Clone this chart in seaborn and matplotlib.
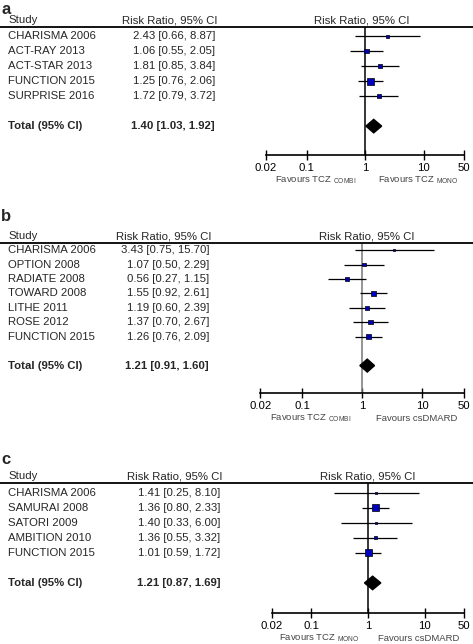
import matplotlib
matplotlib.use("Agg")
import matplotlib.pyplot as plt
import matplotlib.transforms as mtransforms
from matplotlib.ticker import NullLocator
import seaborn as sns
import pandas as pd

# panel a : TCZ combi vs TCZ mono
studies_a = ['CHARISMA 2006', 'ACT-RAY 2013', 'ACT-STAR 2013', 'FUNCTION 2015', 'SURPRISE 2016']
rr_a = [2.43, 1.06, 1.81, 1.25, 1.72]
lo_a = [0.66, 0.55, 0.85, 0.76, 0.79]
hi_a = [8.87, 2.05, 3.84, 2.06, 3.72]
weight_a = [7, 17, 17, 42, 17]
total_a = [1.40, 1.03, 1.92]

# panel b : TCZ combi vs csDMARD
studies_b = ['CHARISMA 2006', 'OPTION 2008', 'RADIATE 2008', 'TOWARD 2008',
             'LITHE 2011', 'ROSE 2012', 'FUNCTION 2015']
rr_b = [3.43, 1.07, 0.56, 1.55, 1.19, 1.37, 1.26]
lo_b = [0.75, 0.50, 0.27, 0.92, 0.60, 0.70, 0.76]
hi_b = [15.70, 2.29, 1.15, 2.61, 2.39, 2.67, 2.09]
weight_b = [4, 12, 12, 20, 16, 16, 20]
total_b = [1.21, 0.91, 1.60]

# panel c : TCZ mono vs csDMARD
studies_c = ['CHARISMA 2006', 'SAMURAI 2008', 'SATORI 2009', 'AMBITION 2010', 'FUNCTION 2015']
rr_c = [1.41, 1.36, 1.40, 1.36, 1.01]
lo_c = [0.25, 0.80, 0.33, 0.55, 0.59]
hi_c = [8.10, 2.33, 6.00, 3.32, 1.72]
weight_c = [3, 42, 5, 8, 42]
total_c = [1.21, 0.87, 1.69]

ticks = [0.02, 0.1, 1, 10, 50]
tick_labels = ['0.02', '0.1', '1', '10', '50']

favours_a = [r'Favours TCZ $_{\mathrm{COMBI}}$', r'Favours TCZ $_{\mathrm{MONO}}$']
favours_b = [r'Favours TCZ $_{\mathrm{COMBI}}$', 'Favours csDMARD']
favours_c = [r'Favours TCZ $_{\mathrm{MONO}}$', 'Favours csDMARD']

sns.set_theme(style='white')
plt.rcParams['font.family'] = ['Liberation Sans', 'DejaVu Sans']
plt.rcParams['mathtext.fontset'] = 'custom'
plt.rcParams['mathtext.rm'] = 'Liberation Sans'

W, H = 473, 644
FS = 8.2
fig = plt.figure(figsize=(W / 100, H / 100), dpi=100)


def px(x, y):
    return x / W, 1 - y / H


def forest(label, label_y, studies, rr, lo, hi, weight, total, favours,
           top, bottom, left, right, ylim, val_right, head_x, vcolor):
    ax = fig.add_axes([left / W, 1 - bottom / H, (right - left) / W, (bottom - top) / H])
    n = len(studies)
    rows = list(range(n))
    df = pd.DataFrame({'rr': rr, 'row': rows, 'w': weight})

    ax.axvline(1, color=vcolor, lw=1.1, zorder=1)
    ax.hlines(rows, lo, hi, color='black', lw=0.9, zorder=2)
    sns.scatterplot(data=df, x='rr', y='row', size='w', sizes=(0, 57), size_norm=(0, 100),
                    marker='s', color='#0000C0', edgecolor='black', linewidth=0.5,
                    legend=False, ax=ax, zorder=3)
    est, tlo, thi = total
    ty = n + 1
    ax.fill([tlo, est, thi, est], [ty, ty - 0.45, ty, ty + 0.45], color='black', zorder=3)

    ax.set_xscale('log')
    ax.set_xlim(0.02, 50)
    ax.set_ylim(*ylim)
    ax.set_xticks(ticks)
    ax.set_xticklabels(tick_labels)
    ax.xaxis.set_minor_locator(NullLocator())
    ax.set_yticks([])
    ax.set_xlabel('')
    ax.set_ylabel('')
    for s in ['top', 'left', 'right']:
        ax.spines[s].set_visible(False)
    ax.spines['bottom'].set_linewidth(1.2)
    ax.spines['bottom'].set_color('black')
    ax.tick_params(axis='x', direction='inout', length=7, width=1, labelsize=8.2,
                   pad=2.5, colors='black', bottom=True)
    ax.patch.set_alpha(0)

    # favours labels under the axis
    ax.annotate(favours[0], xy=(0.14, 0), xycoords=('data', 'axes fraction'),
                xytext=(0, -18.5), textcoords='offset points', ha='center', va='center',
                fontsize=6.8, color='#444444')
    ax.annotate(favours[1], xy=(8, 0), xycoords=('data', 'axes fraction'),
                xytext=(0, -18.5), textcoords='offset points', ha='center', va='center',
                fontsize=6.8, color='#444444')

    # table columns
    tr = mtransforms.blended_transform_factory(fig.transFigure, ax.transData)
    for i, name in enumerate(studies):
        fig.text(8 / W, i, name, transform=tr, fontsize=FS, va='center', ha='left')
        fig.text(val_right / W, i, f'{rr[i]:.2f} [{lo[i]:.2f}, {hi[i]:.2f}]',
                 transform=tr, fontsize=FS, va='center', ha='right')
    fig.text(8 / W, ty, 'Total (95% CI)', transform=tr, fontsize=FS, va='center',
             ha='left', fontweight='bold')
    fig.text(val_right / W, ty, f'{est:.2f} [{tlo:.2f}, {thi:.2f}]', transform=tr,
             fontsize=FS, va='center', ha='right', fontweight='bold')

    # header
    fig.add_artist(plt.Line2D([0, 1], [1 - top / H] * 2, color='black', lw=1.3))
    hx, hy = px(8, top - 2)
    fig.text(hx, hy, 'Study', fontsize=FS, va='bottom', ha='left')
    fig.text((val_right + 2) / W, hy, 'Risk Ratio, 95% CI', fontsize=FS, va='bottom', ha='right')
    fig.text(head_x / W, hy, 'Risk Ratio, 95% CI', fontsize=FS, va='bottom', ha='center')
    lx, ly = px(1, label_y)
    fig.text(lx, ly, label, fontsize=12, fontweight='bold', va='center', ha='left')
    return ax


forest('a', 9, studies_a, rr_a, lo_a, hi_a, weight_a, total_a, favours_a,
       27.3, 155, 266, 464.3, (7.93, -0.6), 215, 362, 'black')
forest('b', 217, studies_b, rr_b, lo_b, hi_b, weight_b, total_b, favours_b,
       243.3, 393, 260.4, 464.2, (9.9, -0.48), 209, 367, '#777777')
forest('c', 460, studies_c, rr_c, lo_c, hi_c, weight_c, total_c, favours_c,
       483.3, 613, 271.5, 464.3, (8.0, -0.63), 220, 368, 'black')

plt.savefig('out.png', dpi=100)
